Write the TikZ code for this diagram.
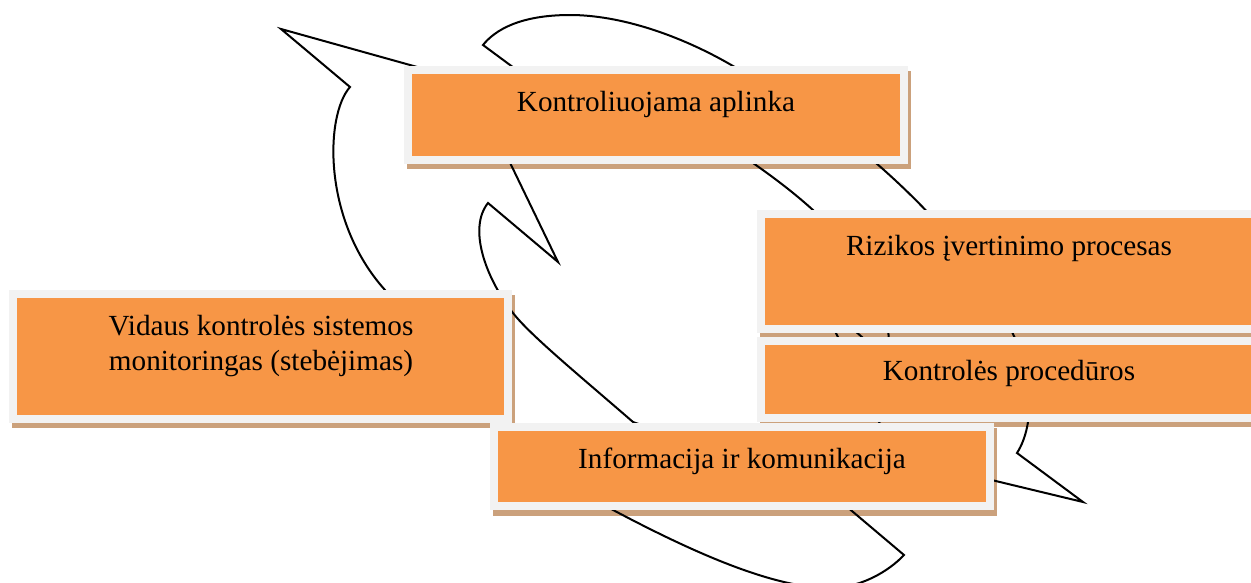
\documentclass[tikz,border=0pt]{standalone}
\usepackage{fontspec}
\setmainfont{Liberation Serif}
\definecolor{boxorange}{RGB}{247,150,70}
\definecolor{boxgray}{RGB}{242,242,242}
\definecolor{boxshadow}{RGB}{203,161,124}
\tikzset{
  box/.style={rectangle, fill=boxorange, draw=boxgray, line width=8pt, inner sep=0pt, minimum width=496pt},
  shadowbox/.style={fill=boxshadow},
  arrowshape/.style={draw=black, line width=2pt, line join=miter},
  lbl/.style={anchor=base, inner sep=0pt, font=\fontsize{29.2}{34}\selectfont},
}
\begin{document}
\begin{tikzpicture}[x=1pt,y=-1pt]
\useasboundingbox (0,0) rectangle (1251,582);
\clip (0,0) rectangle (1251,582);
% shadows of the boxes
\fill[shadowbox] (407,71) rectangle (911,169);
\fill[shadowbox] (760,215) rectangle (1264,338);
\fill[shadowbox] (760,342) rectangle (1264,427);
\fill[shadowbox] (12,295) rectangle (515,428);
\fill[shadowbox] (493,428) rectangle (997,516);
% left curved arrow
\draw[arrowshape] (281,29) -- (350,87)
  .. controls (325,115) and (322,220) .. (385,290)
  .. controls (430,365) and (520,460) .. (615,511)
  .. controls (700,556) and (770,585) .. (823,588)
  .. controls (860,590) and (890,570) .. (904,555)
  -- (820,484) .. controls (760,433) and (680,440) .. (633,422)
  .. controls (580,376) and (530,335) .. (513,313)
  .. controls (485,277) and (468,228) .. (488,203)
  -- (558,262) -- (471,82) -- cycle;
% right curved arrow
\draw[arrowshape] (1083,502) -- (1017,453)
  .. controls (1036,423) and (1032,372) .. (1013,334)
  .. controls (985,270) and (930,210) .. (876,163)
  .. controls (830,125) and (780,90) .. (733,66)
  .. controls (680,35) and (620,15) .. (570,15)
  .. controls (520,15) and (495,30) .. (483,45)
  -- (560,102) .. controls (620,146) and (700,130) .. (753,163)
  .. controls (800,196) and (900,270) .. (888,360)
  -- (820,300) -- (896,457) -- cycle;
% boxes
\node[box, minimum height=90pt] (b1) at (656,115) {};
\node[box, minimum height=115pt] (b2) at (1009,271.5) {};
\node[box, minimum height=77pt] (b3) at (1009,379.5) {};
\node[box, minimum width=495pt, minimum height=125pt] (b4) at (260.5,356.5) {};
\node[box, minimum height=79pt] (b5) at (742,466.5) {};
% texts
\node[lbl] (t1) at (656,111) {Kontroliuojama aplinka};
\node[lbl] (t2) at (1009,255) {Rizikos įvertinimo procesas};
\node[lbl] (t3) at (1009,380) {Kontrolės procedūros};
\node[lbl] (t4a) at (261,335) {Vidaus kontrolės sistemos};
\node[lbl] (t4b) at (261,370) {monitoringas (stebėjimas)};
\node[lbl] (t5) at (742,468) {Informacija ir komunikacija};
\end{tikzpicture}
\end{document}
